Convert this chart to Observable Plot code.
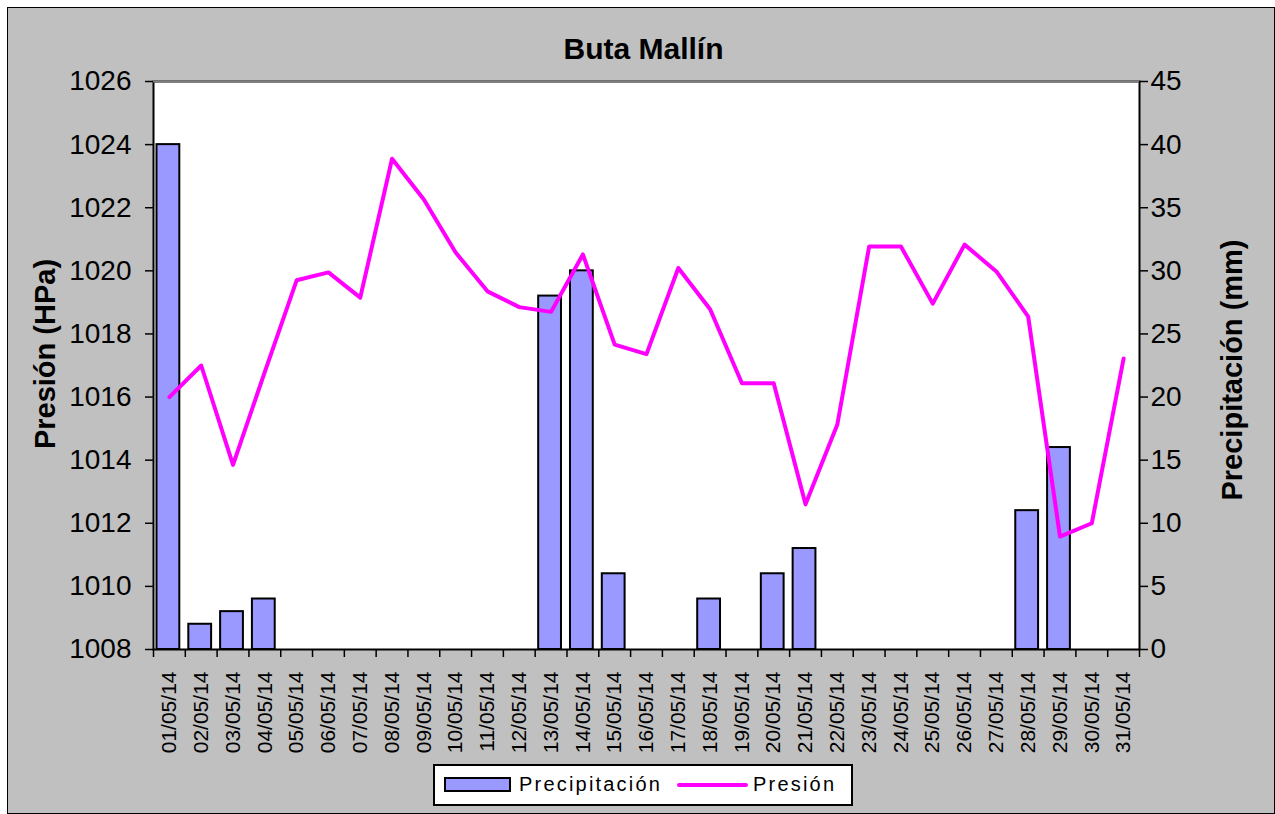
<!DOCTYPE html>
<html>
<head>
<meta charset="utf-8">
<script src="https://cdn.jsdelivr.net/npm/d3@7"></script>
<script src="https://cdn.jsdelivr.net/npm/@observablehq/plot@0.6"></script>
<style>
  html, body { margin: 0; padding: 0; background: #ffffff; }
  #wrap { position: relative; width: 1275px; height: 814px; overflow: hidden; font-family: "Liberation Sans", Arial, sans-serif; color: #000; }
  #bg { position: absolute; left: 7px; top: 7px; width: 1268px; height: 807px; box-sizing: border-box; border: 1.5px solid #000; background: #c0c0c0; }
  #chart { position: absolute; left: 0; top: 0; }
  .title { position: absolute; left: 643.5px; top: 34px; transform: translateX(-50%); font-size: 30px; font-weight: bold; line-height: 1; white-space: nowrap; }
  .ylab { position: absolute; transform: translate(-50%, -50%) rotate(-90deg); font-size: 29px; font-weight: bold; line-height: 1; white-space: nowrap; }
  #legend { position: absolute; left: 433px; top: 764px; width: 420px; height: 42px; box-sizing: border-box; border: 2px solid #000; background: #fff; }
  .lg-rect { position: absolute; left: 444px; top: 777px; width: 67px; height: 15px; box-sizing: border-box; border: 2px solid #000; background: #9999ff; }
  .lg-line { position: absolute; left: 677px; top: 783px; width: 71px; height: 4px; border-radius: 2px; background: #ff00ff; }
  .lg-text { position: absolute; top: 774px; font-size: 20px; line-height: 1; letter-spacing: 2.2px; white-space: nowrap; }
</style>
</head>
<body>
<div id="wrap">
  <div id="bg"></div>
  <div id="chart"></div>
  <div class="title">Buta Mallín</div>
  <div class="ylab" style="left:45px; top:354px;">Presión (HPa)</div>
  <div class="ylab" style="left:1232px; top:370px;">Precipitación (mm)</div>
  <div id="legend"></div>
  <div class="lg-rect"></div>
  <div class="lg-text" style="left:519px;">Precipitación</div>
  <div class="lg-line"></div>
  <div class="lg-text" style="left:753px;">Presión</div>
</div>
<script>
// ---- data ----
const dates = ["01/05/14","02/05/14","03/05/14","04/05/14","05/05/14","06/05/14","07/05/14","08/05/14",
  "09/05/14","10/05/14","11/05/14","12/05/14","13/05/14","14/05/14","15/05/14","16/05/14",
  "17/05/14","18/05/14","19/05/14","20/05/14","21/05/14","22/05/14","23/05/14","24/05/14",
  "25/05/14","26/05/14","27/05/14","28/05/14","29/05/14","30/05/14","31/05/14"];
const precipitation = [40, 2, 3, 4, 0, 0, 0, 0, 0, 0, 0, 0, 28, 30, 6, 0, 0, 4, 0, 6, 8, 0, 0, 0, 0, 0, 0, 11, 16, 0, 0];
const pressure = [1016.0, 1017.0, 1013.85, 1016.8, 1019.7, 1019.95, 1019.15, 1023.55, 1022.26, 1020.58, 1019.35,
  1018.85, 1018.7, 1020.52, 1017.66, 1017.36, 1020.09, 1018.78, 1016.44, 1016.44, 1012.6, 1015.13,
  1020.77, 1020.77, 1018.96, 1020.83, 1019.98, 1018.55, 1011.58, 1012.0, 1017.22];
const pressureTicks = [1008, 1010, 1012, 1014, 1016, 1018, 1020, 1022, 1024, 1026];
const precipTicks = [0, 5, 10, 15, 20, 25, 30, 35, 40, 45];

const rows = dates.map((d, i) => ({date: d, precip: precipitation[i], pres: pressure[i]}));

// ---- layout ----
const W = 1275, H = 814;
const ML = 153, MR = W - 1139, MT = 81, MB = H - 649;
const bw = (W - ML - MR) / dates.length;
const pMin = pressureTicks[0], pMax = pressureTicks[pressureTicks.length - 1];
const rMax = precipTicks[precipTicks.length - 1];
const toP = v => pMin + v * (pMax - pMin) / rMax;      // precipitation -> left-axis units
const fromP = v => (v - pMin) * rMax / (pMax - pMin);

const chart = Plot.plot({
  width: W, height: H,
  marginLeft: ML, marginRight: MR, marginTop: MT, marginBottom: MB,
  style: {background: "transparent", fontFamily: "'Liberation Sans', Arial, sans-serif", color: "black", overflow: "visible"},
  x: {type: "band", domain: dates, padding: 0, round: false, axis: null},
  y: {domain: [pMin, pMax], axis: null},
  marks: [
    Plot.frame({fill: "white", stroke: "black", strokeWidth: 2}),
    Plot.ruleY([pMax], {stroke: "#808080", strokeWidth: 2}),
    Plot.barY(rows.filter(d => d.precip > 0), {
      x: "date", y1: pMin, y2: d => toP(d.precip),
      fill: "#9999ff", stroke: "black", strokeWidth: 2, insetLeft: 3.5, insetRight: 5.5
    }),
    Plot.line(rows, {x: "date", y: "pres", stroke: "#ff00ff", strokeWidth: 4}),
    // x labels
    Plot.axisX(dates, {tickSize: 0, tickPadding: 22, tickRotate: -90, textAnchor: "end", fontSize: 21, label: null, fill: "black"}),
    // x ticks between categories
    Plot.axisX(dates, {tickSize: 8, fill: "none", stroke: "black", strokeWidth: 1.5, dx: -bw / 2, label: null}),
    Plot.axisX([dates[dates.length - 1]], {tickSize: 8, fill: "none", stroke: "black", strokeWidth: 1.5, dx: bw / 2, label: null}),
    // left axis
    Plot.axisY(pressureTicks, {tickSize: 8, tickPadding: 14, fontSize: 28, label: null, tickFormat: d => String(d),
      stroke: "black", strokeWidth: 1.5, fill: "black"}),
    // right axis (precipitation)
    Plot.axisY(precipTicks.map(toP), {anchor: "right", tickSize: 8, tickPadding: 3, fontSize: 28, label: null,
      tickFormat: v => String(Math.round(fromP(v))), stroke: "black", strokeWidth: 1.5, fill: "black"})
  ]
});
document.getElementById("chart").appendChild(chart);
</script>
</body>
</html>
